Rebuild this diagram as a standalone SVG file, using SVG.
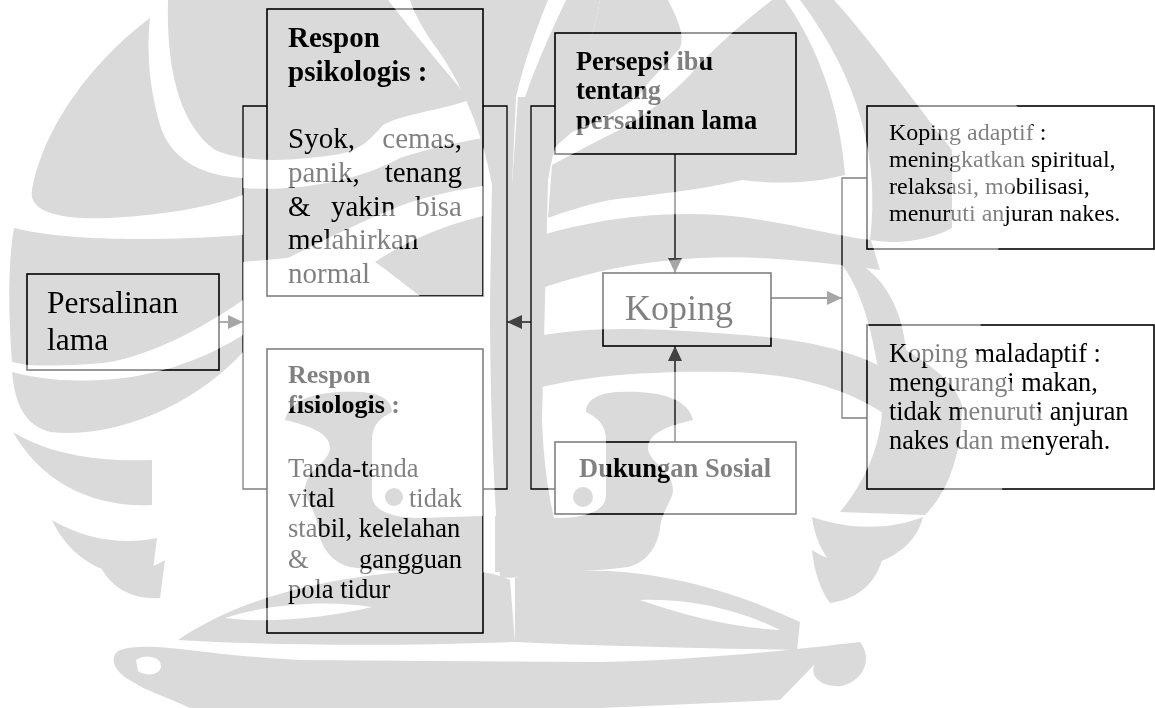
<svg xmlns="http://www.w3.org/2000/svg" xmlns:xlink="http://www.w3.org/1999/xlink" width="1155" height="708" viewBox="0 0 1155 708">
<style>
.box{fill:none;stroke:#000;stroke-width:1.6}
.ln{fill:none;stroke:#000;stroke-width:1.3}
.t{font-family:"Liberation Serif","Times New Roman",serif;fill:#000}
.b{font-weight:bold}
.s29{font-size:29px}
.s26{font-size:26.5px}
.s24{font-size:24px}
.wm{fill:#dadada;mix-blend-mode:multiply}
</style>
<defs>
<marker id="ah" markerUnits="userSpaceOnUse" viewBox="0 0 15 14" refX="15" refY="7" markerWidth="15" markerHeight="14" orient="auto">
<path d="M0,0 L15,7 L0,14 Z" fill="#4d4d4d"/>
</marker>
<g id="wmshapes">
<path d="M150,18 C100,55 45,120 32,190 C28,212 60,220 110,218 C170,215 215,205 243,195 L243,178 C200,176 170,158 160,125 C150,90 146,55 150,18 Z"/>
<path d="M168,0 L388,0 C415,35 445,70 470,100 C440,110 400,115 383,125 C370,140 360,150 340,154 C300,160 250,165 215,150 C180,125 166,70 168,0 Z"/>
<path d="M410,0 L548,0 C536,30 524,62 516,97 L512,185 L492,185 C482,130 462,82 432,42 C422,27 414,13 410,0 Z"/>
<path d="M243,188 C300,192 360,180 400,158 C430,148 460,142 483,138 L483,186 C450,191 420,198 400,206 C360,222 320,242 288,258 L243,262 Z"/>
<path d="M375,262 C400,245 440,226 483,216 L483,296 L420,296 C405,285 390,272 375,262 Z"/>
<path d="M14,228 C60,240 150,242 243,235 L243,300 C200,330 150,355 110,362 C80,366 40,366 28,365 L12,362 C8,310 8,262 14,228 Z"/>
<path d="M12,372 C15,405 25,425 50,432 C120,440 200,400 243,352 L243,335 C200,362 150,378 100,380 C60,382 35,378 12,372 Z"/>
<path d="M13,432 C50,455 100,462 152,460 L152,505 C90,508 40,480 13,432 Z"/>
<path d="M52,520 C85,540 125,545 157,538 L152,578 C110,580 70,560 52,520 Z"/>
<path d="M97,557 C120,572 145,573 165,560 L160,598 C130,600 105,585 97,557 Z"/>
<path fill-rule="evenodd" d="M120,650 C150,640 200,655 300,660 L600,662 C700,660 790,650 860,642 C872,656 866,680 842,686 C822,688 808,676 815,664 L780,700 L600,708 L190,708 C170,698 148,692 133,682 C113,672 108,656 120,650 Z M136,660 C146,653 161,657 161,666 C161,675 146,677 138,671 Z"/>
<path fill-rule="evenodd" d="M178,640 C230,605 300,582 400,572 C450,567 490,570 510,580 L515,642 C400,646 280,646 178,640 Z M225,618 C270,603 330,600 372,607 C330,617 270,624 225,618 Z"/>
<path fill-rule="evenodd" d="M515,578 C600,560 700,575 800,622 L797,650 C700,648 600,646 515,642 Z M640,600 C690,598 740,610 780,630 C740,628 690,618 640,600 Z"/>
<path d="M492,185 L512,185 L518,97 L525,97 C538,60 552,30 566,0 L600,0 C590,60 560,110 548,180 L542,420 C545,500 560,550 575,575 L500,578 C495,500 490,420 490,300 Z"/>
<path d="M285,420 C290,398 320,390 360,392 C380,393 392,400 392,412 C380,418 372,425 372,440 L372,495 C372,512 395,518 420,518 L483,516 L483,572 C440,572 385,572 350,567 C330,562 320,545 318,528 C316,510 305,500 305,490 C305,470 330,462 330,448 C330,430 300,424 285,420 Z"/>
<circle cx="394" cy="497" r="9"/>
<path d="M693,420 C688,398 658,390 618,392 C598,393 586,400 586,412 C598,418 606,425 606,440 L606,495 C606,512 583,518 558,518 L495,516 L495,572 C538,572 593,572 628,567 C648,562 658,545 660,528 C662,510 673,500 673,490 C673,470 648,462 648,448 C648,430 678,424 693,420 Z"/>
<circle cx="583" cy="497" r="10"/>
<path d="M834,0 C875,45 912,100 952,150 L952,228 C930,240 900,245 870,240 C880,160 860,80 800,0 Z"/>
<path d="M850,258 C885,275 902,310 906,350 C930,365 955,382 962,405 C962,460 945,495 925,515 L840,512 C875,470 888,420 880,380 C872,330 862,290 840,262 Z"/>
<path d="M772,0 L785,0 C820,50 840,110 845,175 C810,184 775,184 742,180 C700,190 650,195 610,200 C585,205 565,212 548,218 L552,165 C575,152 600,140 625,127 C650,112 668,97 690,75 C710,52 740,25 772,0 Z"/>
<path d="M600,0 L668,0 C678,20 685,35 680,48 C665,65 650,80 638,96 C620,110 595,122 572,132 L552,150 C565,100 592,50 600,0 Z"/>
<path d="M500,250 C560,225 640,210 720,215 C780,220 830,235 871,240 L880,270 C820,262 760,255 700,258 C620,262 560,280 510,300 Z"/>
<path d="M520,340 C580,325 650,328 730,334 C800,338 860,350 900,378 L905,430 C860,390 800,374 730,372 C650,370 580,376 530,390 Z"/>
<path d="M812,517 C850,530 890,530 923,517 C915,550 880,568 840,570 C825,560 815,540 812,517 Z"/>
<path d="M812,550 C835,565 860,567 882,560 C875,585 855,600 830,603 C820,590 814,570 812,550 Z"/>
</g>
<mask id="wmask" maskUnits="userSpaceOnUse" x="0" y="0" width="1155" height="708">
<path fill="#fff" d="M140,0 L880,0 C950,40 1010,90 1035,130 C1030,160 1008,190 1002,225 C995,280 980,320 975,352 C995,370 1030,395 1045,420 C1035,440 1015,450 1008,460 C995,540 960,610 910,650 L880,708 L100,708 C60,650 10,560 5,450 C0,350 10,230 40,150 C70,80 110,30 140,0 Z"/>
<use xlink:href="#wmshapes" fill="#000"/>
</mask>
</defs>
<rect x="0" y="0" width="1155" height="708" fill="#fff"/>
<g id="connectors">
<line class="ln" x1="219" y1="322" x2="243" y2="322" marker-end="url(#ah)"/>
<path class="ln" d="M267,106 H243 V489 H267"/>
<path class="ln" d="M483,106 H507 V489 H483"/>
<path class="ln" d="M555,106 H531 V489 H555"/>
<line class="ln" x1="531" y1="322" x2="507" y2="322" marker-end="url(#ah)"/>
<line class="ln" x1="675" y1="154" x2="675" y2="273" marker-end="url(#ah)"/>
<line class="ln" x1="675" y1="442" x2="675" y2="346" marker-end="url(#ah)"/>
<line class="ln" x1="771" y1="298" x2="842" y2="298" marker-end="url(#ah)"/>
<path class="ln" d="M867,178 H842 V418 H867"/>
</g>
<g id="node-persalinan">
<rect class="box" x="27" y="274" width="192" height="96"/>
<text class="t" font-size="31.5" x="47" y="313">Persalinan</text>
<text class="t" font-size="31.5" x="47" y="350">lama</text>
</g>
<g id="node-psikologis">
<rect class="box" x="267" y="9" width="216" height="287"/>
<text class="t b s29" x="288" y="47">Respon</text>
<text class="t b s29" x="288" y="81">psikologis :</text>
<text class="t s29" x="288" y="148">Syok,</text>
<text class="t s29" x="462" y="148" text-anchor="end">cemas,</text>
<text class="t s29" x="288" y="182">panik,</text>
<text class="t s29" x="462" y="182" text-anchor="end">tenang</text>
<text class="t s29" x="288" y="216">&amp;</text>
<text class="t s29" x="331" y="216">yakin</text>
<text class="t s29" x="462" y="216" text-anchor="end">bisa</text>
<text class="t s29" x="288" y="249">melahirkan</text>
<text class="t s29" x="288" y="283">normal</text>
</g>
<g id="node-fisiologis">
<rect class="box" x="267" y="349" width="216" height="284"/>
<text class="t b" font-size="26" x="288" y="383">Respon</text>
<text class="t b" font-size="26" x="288" y="413">fisiologis :</text>
<text class="t s26" x="288" y="477">Tanda-tanda</text>
<text class="t s26" x="288" y="507">vital</text>
<text class="t s26" x="462" y="507" text-anchor="end">tidak</text>
<text class="t s26" x="288" y="537">stabil, kelelahan</text>
<text class="t s26" x="288" y="568">&amp;</text>
<text class="t s26" x="462" y="568" text-anchor="end">gangguan</text>
<text class="t s26" x="288" y="598">pola tidur</text>
</g>
<g id="node-persepsi">
<rect class="box" x="555" y="33" width="241" height="121"/>
<text class="t b" font-size="26.4" x="576" y="70">Persepsi ibu</text>
<text class="t b" font-size="26.4" x="576" y="99">tentang</text>
<text class="t b" font-size="26.4" x="576" y="129">persalinan lama</text>
</g>
<g id="node-koping">
<rect class="box" x="603" y="273" width="168" height="73"/>
<text class="t" font-size="36" x="625" y="320" fill="#222">Koping</text>
</g>
<g id="node-dukungan">
<rect class="box" x="555" y="442" width="241" height="72"/>
<text class="t b" font-size="26.5" x="579" y="477">Dukungan Sosial</text>
</g>
<g id="node-adaptif">
<rect class="box" x="867" y="106" width="287" height="143"/>
<text class="t s24" x="889" y="140">Koping adaptif :</text>
<text class="t s24" x="889" y="167">meningkatkan spiritual,</text>
<text class="t s24" x="889" y="194">relaksasi, mobilisasi,</text>
<text class="t s24" x="889" y="221">menuruti anjuran nakes.</text>
</g>
<g id="node-maladaptif">
<rect class="box" x="867" y="325" width="287" height="164"/>
<text class="t" font-size="26.3" x="889" y="362">Koping maladaptif :</text>
<text class="t" font-size="26.3" x="889" y="391">mengurangi makan,</text>
<text class="t" font-size="26.3" x="889" y="420">tidak menuruti anjuran</text>
<text class="t" font-size="26.3" x="889" y="449">nakes dan menyerah.</text>
</g>
<g id="watermark">
<rect x="0" y="0" width="1155" height="708" fill="#fff" opacity="0.5" mask="url(#wmask)"/>
<use xlink:href="#wmshapes" class="wm"/>
</g>
</svg>
